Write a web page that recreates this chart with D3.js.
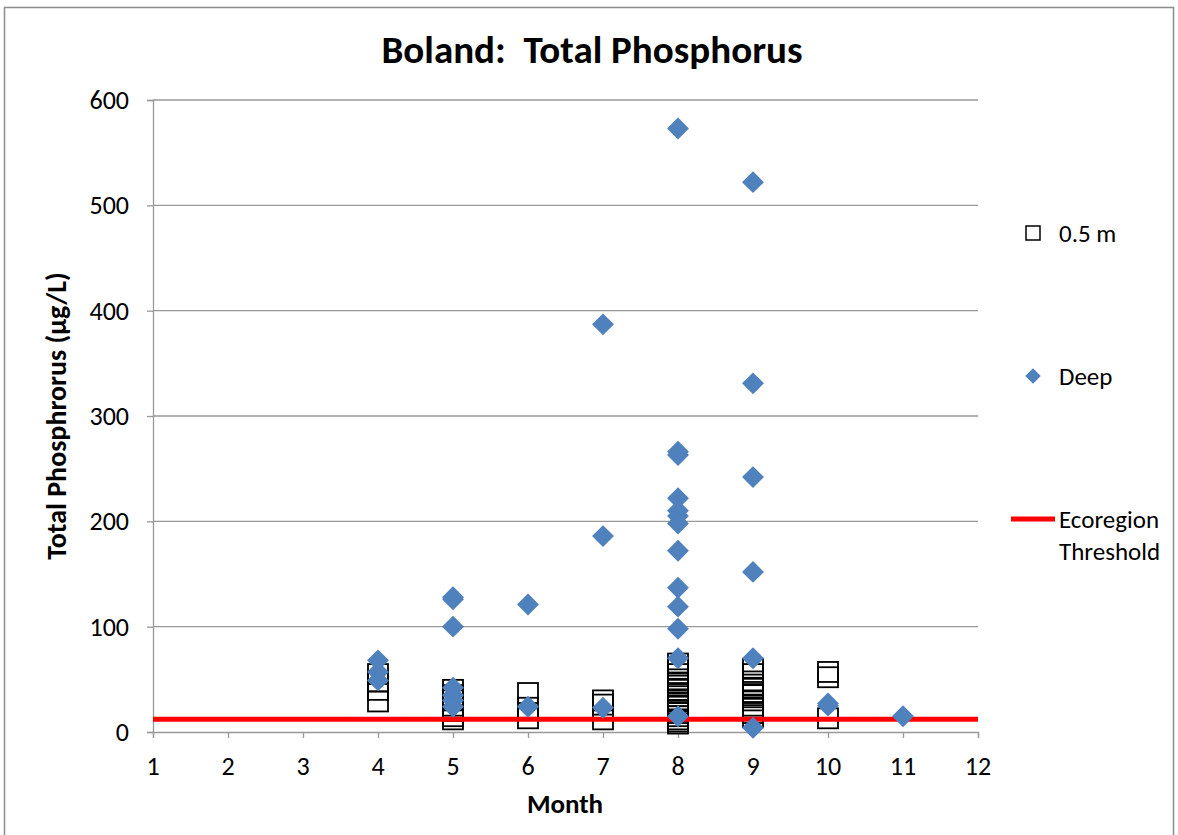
<!DOCTYPE html>
<html>
<head>
<meta charset="utf-8">
<script src="https://cdn.jsdelivr.net/npm/d3@7"></script>
<style>
  body { margin: 0; background: #fff; }
  svg text { font-family: Carlito, Lato, "Open Sans", sans-serif; fill: #000; white-space: pre; }
</style>
</head>
<body>
<div id="chart"></div>
<script>
// 0.5 m samples: [month, value]
const shallowMonths = [4,4,4,4, 5,5,5,5,5,5,5, 6,6,6, 7,7,7,
  8,8,8,8,8,8,8,8,8,8,8,8,8,8,8,8,8,8,
  9,9,9,9,9,9,9,9,9,9,9,9, 10,10,10];
const shallowValues = [55,48,40,29, 40,35,30,25,20,15,12, 37,23,13, 30,26,12,
  65,60,55,50,47,44,40,37,34,30,27,24,20,18,15,12,10,8,
  60,55,48,45,42,38,35,30,25,22,18,14, 57,52,13];

// Deep samples
const deepMonths = [4,4,4, 5,5,5,5,5,5,5, 6,6, 7,7,7,
  8,8,8,8,8,8,8,8,8,8,8,8,8,
  9,9,9,9,9,9, 10,10, 11];
const deepValues = [68,57,49, 128,126,100,42,35,30,24, 121,24, 387,186,23,
  573,266,263,222,210,205,198,172,137,119,98,70,15,
  522,331,242,152,70,4, 27,25, 15];

const threshold = 12;
const xTicks = [1,2,3,4,5,6,7,8,9,10,11,12];
const yTicks = [0,100,200,300,400,500,600];

const W = 1178, H = 835;
const margin = { top: 100, right: 200, bottom: 103, left: 153 };
const width = 978 - margin.left;
const height = 732 - margin.top;

const svg = d3.select("#chart").append("svg")
  .attr("width", W).attr("height", H);

// outer chart border
svg.append("rect")
  .attr("x", 4.5).attr("y", 7.5)
  .attr("width", 1169).attr("height", 840)
  .attr("fill", "none").attr("stroke", "#8c8c8c").attr("stroke-width", 1.5);

const g = svg.append("g")
  .attr("transform", "translate(" + margin.left + "," + margin.top + ")");

const x = d3.scaleLinear().domain([1, 12]).range([0, width]);
const y = d3.scaleLinear().domain([0, 600]).range([height, 0]);

// gridlines
g.selectAll(".grid").data(yTicks.filter(d => d > 0)).enter()
  .append("line")
  .attr("x1", 0).attr("x2", width)
  .attr("y1", d => y(d)).attr("y2", d => y(d))
  .attr("stroke", "#999").attr("stroke-width", 1.3);

// axes, drawn without tick labels; labels added as plain text below
const yAxis = g.append("g")
  .call(d3.axisLeft(y).tickValues(yTicks).tickSize(6).tickFormat(""));
const xAxis = g.append("g")
  .attr("transform", "translate(0," + height + ")")
  .call(d3.axisBottom(x).tickValues(xTicks).tickSize(6).tickFormat(""));
[yAxis, xAxis].forEach(a => {
  a.select(".domain").attr("stroke", "#999").attr("stroke-width", 1.3);
  a.selectAll(".tick line").attr("stroke", "#999").attr("stroke-width", 1.3);
});

g.selectAll(".ylab").data(yTicks).enter()
  .append("text")
  .attr("x", -24).attr("y", d => y(d) + 9)
  .attr("text-anchor", "end")
  .attr("font-size", 26)
  .text(d => d);

g.selectAll(".xlab").data(xTicks).enter()
  .append("text")
  .attr("x", d => x(d)).attr("y", height + 43)
  .attr("text-anchor", "middle")
  .attr("font-size", 26)
  .text(d => d);

// 0.5 m squares
const sq = 20;
g.selectAll(".sq").data(shallowValues).enter()
  .append("rect")
  .attr("x", (d, i) => x(shallowMonths[i]) - sq / 2)
  .attr("y", d => y(d) - sq / 2)
  .attr("width", sq).attr("height", sq)
  .attr("fill", "none").attr("stroke", "#000").attr("stroke-width", 1.8);

// threshold line
g.append("line")
  .attr("x1", 0).attr("x2", width)
  .attr("y1", y(threshold)).attr("y2", y(threshold))
  .attr("stroke", "#ff0000").attr("stroke-width", 5);

// deep diamonds
const diamond = d3.symbol().type(d3.symbolSquare).size(240);
g.selectAll(".dm").data(deepValues).enter()
  .append("path")
  .attr("d", diamond)
  .attr("transform", (d, i) => "translate(" + x(deepMonths[i]) + "," + y(d) + ") rotate(45)")
  .attr("fill", "#4f81bd");

// titles
svg.append("text")
  .attr("x", 592).attr("y", 63)
  .attr("text-anchor", "middle")
  .attr("font-size", 39).attr("font-weight", "bold")
  .text("Boland:  Total Phosphorus");

svg.append("text")
  .attr("x", 565).attr("y", 813)
  .attr("text-anchor", "middle")
  .attr("font-size", 27).attr("font-weight", "bold")
  .text("Month");

svg.append("text")
  .attr("transform", "translate(66," + 416 + ") rotate(-90)")
  .attr("text-anchor", "middle")
  .attr("font-size", 28).attr("font-weight", "bold")
  .text("Total Phosphrorus (µg/L)");

// legend
const lg = svg.append("g").attr("font-size", 25);
lg.append("rect")
  .attr("x", 1026).attr("y", 226).attr("width", 14).attr("height", 14)
  .attr("fill", "none").attr("stroke", "#000").attr("stroke-width", 1.5);
lg.append("text").attr("x", 1059).attr("y", 242).text("0.5 m");

lg.append("path")
  .attr("d", d3.symbol().type(d3.symbolSquare).size(120))
  .attr("transform", "translate(1033,376) rotate(45)")
  .attr("fill", "#4f81bd");
lg.append("text").attr("x", 1059).attr("y", 385).text("Deep");

lg.append("line")
  .attr("x1", 1011).attr("x2", 1055).attr("y1", 519).attr("y2", 519)
  .attr("stroke", "#ff0000").attr("stroke-width", 5);
lg.append("text").attr("x", 1059).attr("y", 528).text("Ecoregion");
lg.append("text").attr("x", 1059).attr("y", 560).text("Threshold");
</script>
</body>
</html>
